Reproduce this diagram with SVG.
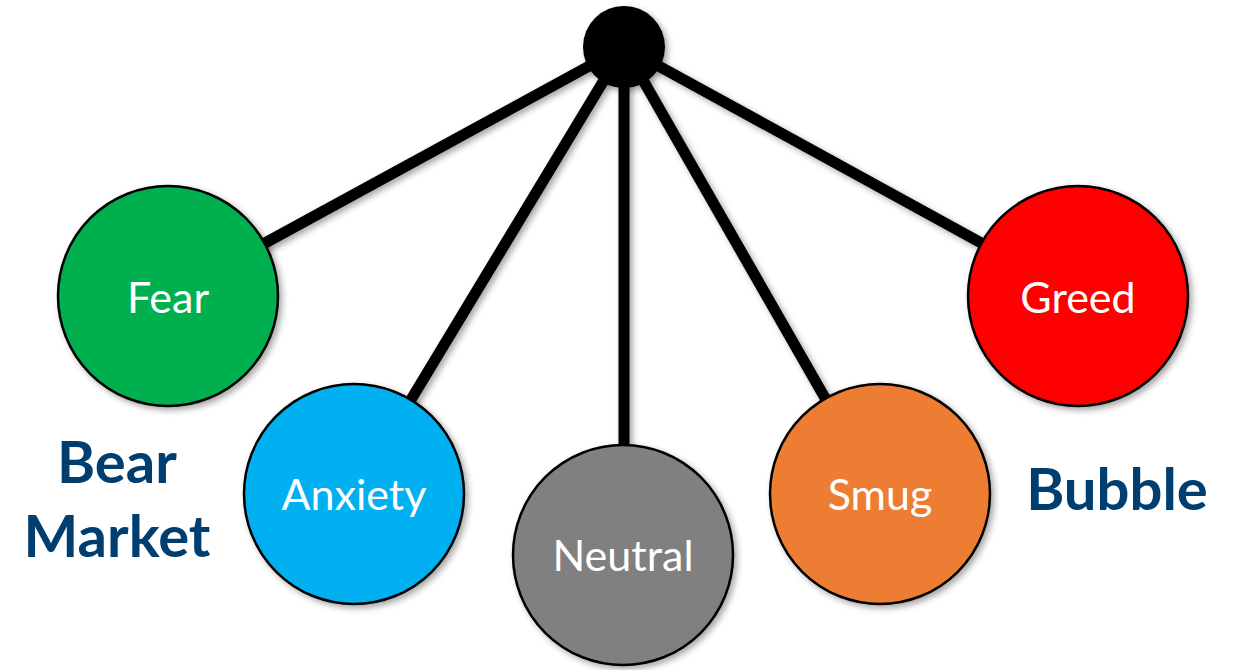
<svg xmlns="http://www.w3.org/2000/svg" width="1238" height="670" viewBox="0 0 1238 670">
<defs>
<filter id="sh" x="-20%" y="-20%" width="140%" height="140%">
<feDropShadow dx="3" dy="3" stdDeviation="3" flood-color="#000" flood-opacity="0.35"/>
</filter>
<style>
.node{stroke:#000;stroke-width:2.5;filter:url(#sh)}
.lbl{font-family:Lato,"Open Sans",sans-serif;font-size:43px;fill:#fff;text-anchor:middle}
.big{font-family:Lato,"Open Sans",sans-serif;font-size:58px;font-weight:bold;fill:#003E70;text-anchor:middle}
.edge{stroke:#000;stroke-width:11;fill:none}
</style>
</defs>
<rect width="1238" height="670" fill="#fff"/>
<g id="connectors" filter="url(#sh)">
<line class="edge" x1="624" y1="47" x2="168" y2="296"/>
<line class="edge" x1="624" y1="47" x2="354" y2="494"/>
<line class="edge" x1="624" y1="47" x2="624" y2="555"/>
<line class="edge" x1="624" y1="47" x2="880" y2="494"/>
<line class="edge" x1="624" y1="47" x2="1078" y2="296"/>
</g>
<g id="hub"><circle cx="624" cy="47" r="41" fill="#000" filter="url(#sh)"/></g>
<g id="fear"><circle class="node" cx="168" cy="296" r="110" fill="#00B050"/><text class="lbl" x="168" y="313">Fear</text></g>
<g id="anxiety"><circle class="node" cx="354" cy="494" r="110" fill="#00B0F0"/><text class="lbl" x="354" y="510">Anxiety</text></g>
<g id="neutral"><circle class="node" cx="623" cy="555" r="110" fill="#808080"/><text class="lbl" x="623" y="571">Neutral</text></g>
<g id="smug"><circle class="node" cx="880" cy="494" r="110" fill="#ED7D31"/><text class="lbl" x="880" y="510">Smug</text></g>
<g id="greed"><circle class="node" cx="1078" cy="296" r="110" fill="#FF0000"/><text class="lbl" x="1078" y="313">Greed</text></g>
<g id="bear-market"><text class="big" x="117" y="483">Bear</text><text class="big" x="117" y="557">Market</text></g>
<g id="bubble"><text class="big" x="1117" y="510">Bubble</text></g>
</svg>
